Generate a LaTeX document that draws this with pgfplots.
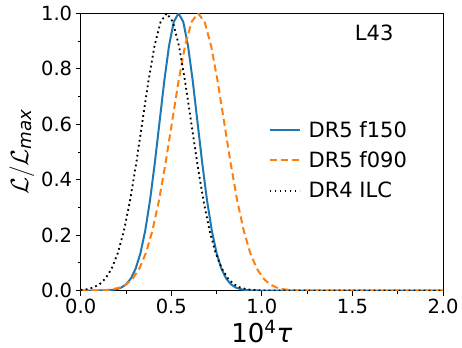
\documentclass[border=0pt]{standalone}
\usepackage{amsmath}
\usepackage{fontspec}
\setmainfont{DejaVu Sans}
\usepackage{pgfplots}
\pgfplotsset{compat=1.18}
\definecolor{tabblue}{HTML}{1F77B4}
\definecolor{taborange}{HTML}{FF7F0E}
\begin{document}
\begin{tikzpicture}
\begin{axis}[
  scale only axis, width=362pt, height=277pt,
  xmin=0, xmax=2, ymin=0, ymax=1,
  clip mode=individual,
  axis line style={line width=0.8pt},
  xtick={0,0.5,1,1.5,2}, xticklabels={0.0,0.5,1.0,1.5,2.0},
  minor xtick={0.25,0.75,1.25,1.75},
  ytick={0,0.2,0.4,0.6,0.8,1}, yticklabels={0.0,0.2,0.4,0.6,0.8,1.0},
  minor ytick={0.1,0.3,0.5,0.7,0.9},
  xtick pos=lower, ytick pos=left, tick align=outside,
  major tick length=5pt, minor tick length=3pt,
  every tick/.style={black, line width=0.8pt},
  tick label style={font=\fontsize{19.5}{23}\selectfont},
  xlabel={10$^{\text{4}}$\textit{τ}},
  ylabel={$\mathcal{L}/\mathcal{L}_{\textit{max}}$},
  label style={font=\fontsize{26}{31}\selectfont},
  xlabel style={at={(rel axis cs:0.5,-0.187)}, anchor=base, inner sep=0pt},
  legend style={draw=none, fill=none, at={(0.915,0.47)}, anchor=east,
    font=\fontsize{21}{25}\selectfont, row sep=9pt},
  legend cell align=left,
  legend image code/.code={\draw[#1] (0pt,0pt) -- (30pt,0pt); \path (36pt,0pt);},
]
\addplot[tabblue, line width=2pt] coordinates {
(0,0) (0.0675,0.00004) (0.12,0.00034) (0.14625,0.00088) (0.1725,0.00219)
(0.19875,0.00509) (0.225,0.01111) (0.25125,0.02279) (0.2775,0.04394)
(0.30375,0.07956) (0.33,0.13534) (0.35625,0.21627) (0.3825,0.32465)
(0.40875,0.45783) (0.435,0.60653) (0.46125,0.75484) (0.4875,0.88250)
(0.51375,0.96923) (0.54,1) (0.56625,0.96923) (0.5925,0.88250)
(0.61875,0.75484) (0.645,0.60653) (0.67125,0.45783) (0.6975,0.32465)
(0.72375,0.21627) (0.75,0.13534) (0.77625,0.07956) (0.8025,0.04394)
(0.82875,0.02279) (0.855,0.01111) (0.88125,0.00509) (0.9075,0.00219)
(0.93375,0.00088) (0.96,0.00034) (1.0125,0.00004) (1.1,0) (2,0)
};
\addlegendentry{DR5 f150}
\addplot[taborange, line width=2pt, dash pattern=on 7pt off 4pt] coordinates {
(0,0.00004) (0.072,0.00034) (0.108,0.00088) (0.144,0.00219) (0.18,0.00509)
(0.216,0.01111) (0.252,0.02279) (0.288,0.04394) (0.324,0.07956)
(0.36,0.13534) (0.396,0.21627) (0.432,0.32465) (0.468,0.45783)
(0.504,0.60653) (0.54,0.75484) (0.576,0.88250) (0.612,0.96923)
(0.648,1) (0.684,0.96923) (0.72,0.88250) (0.756,0.75484) (0.792,0.60653)
(0.828,0.45783) (0.864,0.32465) (0.9,0.21627) (0.936,0.13534)
(0.972,0.07956) (1.008,0.04394) (1.044,0.02279) (1.08,0.01111)
(1.116,0.00509) (1.152,0.00219) (1.188,0.00088) (1.224,0.00034)
(1.296,0.00004) (1.4,0) (2,0)
};
\addlegendentry{DR5 f090}
\addplot[black, line width=1.8pt, dash pattern=on 1.8pt off 3.2pt] coordinates {
(0,0.0021) (0.03625,0.00509) (0.07,0.01111) (0.10375,0.02279)
(0.1375,0.04394) (0.17125,0.07956) (0.205,0.13534) (0.23875,0.21627)
(0.2725,0.32465) (0.30625,0.45783) (0.34,0.60653) (0.37375,0.75484)
(0.4075,0.88250) (0.44125,0.96923) (0.475,1) (0.50875,0.96923)
(0.5425,0.88250) (0.57625,0.75484) (0.61,0.60653) (0.64375,0.45783)
(0.6775,0.32465) (0.71125,0.21627) (0.745,0.13534) (0.77875,0.07956)
(0.8125,0.04394) (0.84625,0.02279) (0.88,0.01111) (0.91375,0.00509)
(0.9475,0.00219) (0.98125,0.00088) (1.015,0.00034) (1.0825,0.00004)
(1.2,0) (2,0)
};
\addlegendentry{DR4 ILC}
\node[font=\fontsize{21}{25}\selectfont] at (axis cs:1.62,0.93) {L43};
\path (rel axis cs:-0.2227,-0.206) rectangle (rel axis cs:1.0524,1.048);
\end{axis}
\end{tikzpicture}
\end{document}
